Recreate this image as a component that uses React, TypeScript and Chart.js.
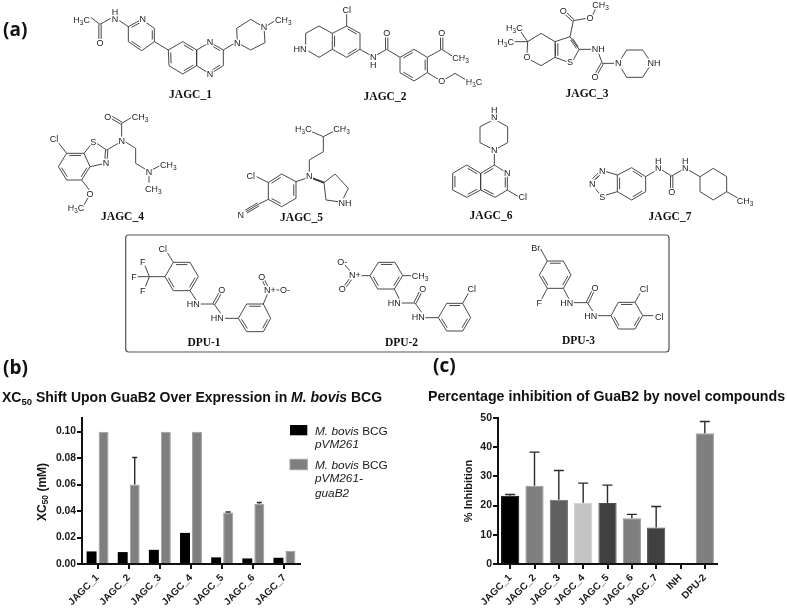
import React, { useEffect, useRef } from "react";
import { Chart, registerables } from "chart.js";

Chart.register(...registerables);

// ---------- chart data ----------
const shiftCategories = ["JAGC_1", "JAGC_2", "JAGC_3", "JAGC_4", "JAGC_5", "JAGC_6", "JAGC_7"];
const pVM261Values = [0.0095, 0.009, 0.0107, 0.0235, 0.005, 0.0042, 0.0047];
const guaB2Values = [0.1, 0.06, 0.1, 0.1, 0.039, 0.0455, 0.01];
const guaB2Upper = [null, 0.0805, null, null, 0.0393, 0.0465, null];
const shiftTicks = { max: 0.1103, step: 0.02 };

const inhibitionCategories = ["JAGC_1", "JAGC_2", "JAGC_3", "JAGC_4", "JAGC_5", "JAGC_6", "JAGC_7", "INH", "DPU-2"];
const inhibitionValues = [23.4, 26.8, 22, 21, 20.9, 15.7, 12.5, 0, 44.8];
const inhibitionUpper = [23.8, 38.3, 32, 27.7, 27, 17, 19.7, null, 48.8];
const inhibitionColors = ["#000000", "#7f7f7f", "#606060", "#c4c4c4", "#404040", "#7f7f7f", "#404040", "#000000", "#7f7f7f"];
const inhibitionBorders = ["#000000", "#999999", "#707070", "#cfcfcf", "#505050", "#999999", "#505050", "#000000", "#a0a0a0"];

// ---------- chemical structure drawings (decorative, zoom-space outlines) ----------
type P = number[];
type Mol = {
  ox: number; oy: number;
  rings: { p: P[]; d: number[] }[];
  bonds: number[][];
  dbl?: number[][];
  tri?: number[][];
  bold?: number[][];
  labels: [number, number, string][];
};

const mols: Mol[] = [
  { ox: 0, oy: 0,
    rings: [
      { p: [[385,80],[425,58],[463,85],[463,125],[425,152],[385,125]], d: [0,2,4] },
      { p: [[505,150],[548,125],[590,150],[590,197],[548,222],[507,197]], d: [1,3,5] },
      { p: [[590,150],[630,127],[670,150],[670,197],[630,222],[590,197]], d: [1,3] },
      { p: [[712,128],[710,85],[752,58],[792,82],[795,128],[752,150]], d: [] },
    ],
    bonds: [[272,52,300,73],[300,73,332,55],[358,62,385,80],[463,125,505,150],[670,150,703,130],[800,78,825,62]],
    dbl: [[300,73,300,117]],
    labels: [[245,60,"H3C"],[345,58,"N"],[345,36,"H"],[300,128,"O"],[428,58,"N"],[630,127,"N"],[630,222,"N"],[712,128,"N"],[792,82,"N"],[850,60,"CH3"]] },
  { ox: 0, oy: 0,
    rings: [
      { p: [[1040,78],[1080,100],[1080,148],[1040,172],[997,148],[997,100]], d: [0,2,4] },
      { p: [[1200,172],[1242,148],[1282,172],[1282,218],[1242,243],[1200,218]], d: [0,2,4] },
    ],
    bonds: [[1040,42,1040,78],[997,100,957,78],[957,78,917,100],[917,100,917,135],[925,153,957,172],[957,172,997,148],[1080,148,1110,165],[1130,165,1160,148],[1160,148,1200,172],[1282,172,1325,148],[1325,148,1360,170],[1282,218,1315,238],[1335,238,1365,220],[1365,220,1395,238]],
    dbl: [[1160,148,1160,112],[1325,148,1325,112]],
    labels: [[1040,30,"Cl"],[900,148,"HN"],[1120,172,"N"],[1120,195,"H"],[1160,100,"O"],[1325,100,"O"],[1382,175,"CH3"],[1325,243,"O"],[1422,245,"H3C"]] },
  { ox: 390, oy: 0,
    rings: [
      { p: [[685,190],[710,150],[758,150],[785,190],[758,232],[710,232]], d: [] },
    ],
    bonds: [[390,92,413,125],[372,125,413,125],[413,125,453,100],[453,100,495,125],[495,125,495,172],[495,172,453,197],[453,197,422,180],[413,125,411,160],[495,125,540,110],[540,110,567,148],[495,172,530,185],[550,180,567,148],[540,110,550,62],[550,62,590,55],[608,45,622,15],[567,148,605,148],[625,158,637,190],[637,190,672,190]],
    dbl: [[550,62,527,40],[637,190,620,220],[500,130,500,167],[545,118,562,143]],
    labels: [[373,85,"H3C"],[347,125,"H3C"],[411,172,"O"],[540,187,"S"],[520,32,"O"],[600,55,"O"],[632,14,"CH3"],[625,148,"NH"],[615,230,"O"],[685,190,"N"],[792,190,"NH"]] },
  { ox: 0, oy: 0,
    rings: [
      { p: [[200,460],[252,460],[270,500],[245,540],[200,540],[175,500]], d: [0,2,4] },
    ],
    bonds: [[175,428,200,460],[252,460,272,435],[290,430,320,450],[308,492,270,500],[320,450,355,430],[365,410,365,370],[365,370,395,352],[375,425,407,445],[407,445,407,490],[407,490,440,510],[455,510,480,497],[447,527,447,548],[245,540,268,570],[265,592,250,618]],
    dbl: [[320,450,318,480],[365,370,335,352]],
    labels: [[162,418,"Cl"],[280,425,"S"],[318,490,"N"],[365,422,"N"],[323,350,"O"],[420,352,"CH3"],[447,515,"N"],[505,495,"CH3"],[460,567,"CH3"],[270,582,"O"],[228,625,"H3C"]] },
  { ox: 0, oy: 0,
    rings: [
      { p: [[888,545],[888,595],[845,620],[805,598],[805,548],[845,522]], d: [0,2,4] },
    ],
    bonds: [[935,395,970,410],[970,410,1005,392],[970,410,970,455],[970,455,928,480],[928,480,928,515],[918,535,888,545],[770,530,805,548],[972,548,1005,522],[1005,522,1045,565],[1045,565,1030,595],[1015,605,978,600],[978,600,972,548],[805,598,775,613]],
    tri: [[775,613,738,635]],
    bold: [[938,535,972,548]],
    labels: [[910,388,"H3C"],[1025,388,"CH3"],[928,528,"N"],[752,528,"Cl"],[722,645,"N"],[1035,608,"NH"]] },
  { ox: 390, oy: 0,
    rings: [
      { p: [[272,520],[230,495],[188,520],[188,570],[230,592],[272,570]], d: [0,2,4] },
      { p: [[313,358],[353,380],[353,428],[313,450],[270,428],[270,380]], d: [] },
      { p: [[313,495],[352,520],[352,570],[315,592],[272,570],[272,520]], d: [1,3,5] },
    ],
    bonds: [[313,462,313,495],[352,570,385,590]],
    labels: [[313,352,"N"],[313,330,"H"],[313,450,"N"],[352,520,"N"],[398,592,"Cl"]] },
  { ox: 390, oy: 0,
    rings: [
      { p: [[682,525],[725,503],[767,530],[767,575],[725,600],[682,575]], d: [1,3,5] },
      { p: [[930,530],[970,505],[1010,530],[1010,575],[970,600],[930,575]], d: [] },
    ],
    bonds: [[682,525,648,515],[630,525,612,542],[612,562,628,580],[648,585,682,575],[767,530,797,512],[815,510,845,528],[845,528,876,510],[895,510,930,530],[1010,575,1045,595]],
    dbl: [[845,528,845,565],[627,522,610,538]],
    labels: [[637,513,"N"],[607,552,"N"],[637,590,"S"],[805,505,"N"],[805,482,"H"],[886,505,"N"],[886,482,"H"],[845,577,"O"],[1065,602,"CH3"]] },
  { ox: 110, oy: 225,
    rings: [
      { p: [[190,112],[240,112],[265,155],[240,197],[190,197],[165,155]], d: [0,2,4] },
      { p: [[385,280],[410,237],[460,237],[482,280],[460,320],[410,320]], d: [1,3,5] },
    ],
    bonds: [[170,80,190,112],[165,155,118,155],[118,155,105,122],[118,155,82,155],[118,155,105,188],[240,197,258,225],[272,237,312,237],[312,237,332,265],[345,280,385,280],[460,237,472,208],[492,195,512,195]],
    dbl: [[312,237,330,205],[470,185,460,165]],
    labels: [[158,72,"Cl"],[98,112,"F"],[72,155,"F"],[98,197,"F"],[250,237,"HN"],[335,195,"O"],[322,280,"HN"],[455,155,"O"],[480,195,"N+"],[525,195,"O-"]] },
  { ox: 110, oy: 225,
    rings: [
      { p: [[780,152],[805,112],[855,112],[878,152],[853,192],[803,192]], d: [1,3,5] },
      { p: [[985,278],[1010,235],[1058,235],[1082,278],[1058,318],[1010,318]], d: [1,3,5] },
    ],
    bonds: [[705,120,722,140],[748,152,780,152],[878,152,905,152],[853,192,868,222],[875,234,915,234],[915,234,935,262],[945,278,985,278],[1058,235,1075,205]],
    dbl: [[722,162,705,185],[915,234,932,200]],
    labels: [[697,110,"O-"],[735,150,"N+"],[697,192,"O"],[930,153,"CH3"],[853,234,"HN"],[938,192,"O"],[925,275,"HN"],[1085,193,"Cl"]] },
  { ox: 470, oy: 225,
    rings: [
      { p: [[232,108],[280,108],[303,150],[280,190],[232,190],[208,150]], d: [0,2,4] },
      { p: [[423,272],[445,232],[495,232],[518,272],[495,312],[445,312]], d: [1,3,5] },
    ],
    bonds: [[212,72,232,108],[232,190,215,222],[280,190,297,222],[310,233,352,233],[352,233,368,258],[382,272,423,272],[495,232,510,205],[518,272,550,272]],
    dbl: [[352,233,368,200]],
    labels: [[197,68,"Br"],[208,233,"F"],[290,233,"HN"],[375,190,"O"],[362,272,"HN"],[522,192,"Cl"],[568,275,"Cl"]] },
];

const names: [number, number, string][] = [
  [190.5, 94, "JAGC_1"], [385, 96, "JAGC_2"], [587, 93, "JAGC_3"], [122.5, 216, "JAGC_4"],
  [301.5, 217, "JAGC_5"], [491, 215, "JAGC_6"], [670, 216, "JAGC_7"], [204, 342, "DPU-1"],
  [401.5, 342, "DPU-2"], [578.5, 340, "DPU-3"],
];

function AtomText({ x, y, t }: { x: number; y: number; t: string }) {
  const parts = t.match(/\d|[^\d]+/g) || [];
  let sub = false;
  return (
    <text x={x} y={y} textAnchor="middle" dominantBaseline="central" fontFamily="'Liberation Sans'" fontSize={9} fill="#222"
      stroke="#fff" strokeWidth={2.5} paintOrder="stroke">
      {parts.map((s, i) => {
        const isNum = /\d/.test(s);
        const dy = isNum ? 2 : sub ? -2 : 0;
        sub = isNum;
        return <tspan key={i} dy={dy} fontSize={isNum ? 6.5 : 9}>{s}</tspan>;
      })}
    </text>
  );
}

function Molecule({ m }: { m: Mol }) {
  const X = (v: number) => m.ox + v / 3;
  const Y = (v: number) => m.oy + v / 3;
  const segs: React.ReactNode[] = [];
  const line = (a: number[], key: string, w = 0.9) =>
    segs.push(<line key={key} x1={X(a[0])} y1={Y(a[1])} x2={X(a[2])} y2={Y(a[3])} stroke="#333" strokeWidth={w} />);
  m.rings.forEach((r, ri) => {
    const cx = r.p.reduce((s, q) => s + q[0], 0) / r.p.length;
    const cy = r.p.reduce((s, q) => s + q[1], 0) / r.p.length;
    r.p.forEach((q, i) => {
      const n = r.p[(i + 1) % r.p.length];
      line([q[0], q[1], n[0], n[1]], `r${ri}-${i}`);
      if (r.d.includes(i)) {
        const f = 0.84;
        line([cx + (q[0] - cx) * f + (n[0] - q[0]) * 0.08, cy + (q[1] - cy) * f + (n[1] - q[1]) * 0.08,
              cx + (n[0] - cx) * f - (n[0] - q[0]) * 0.08, cy + (n[1] - cy) * f - (n[1] - q[1]) * 0.08], `d${ri}-${i}`);
      }
    });
  });
  m.bonds.forEach((b, i) => line(b, `b${i}`));
  const offset = (b: number[], o: number) => {
    const dx = b[2] - b[0], dy = b[3] - b[1], l = Math.hypot(dx, dy) || 1;
    return [b[0] - dy / l * o, b[1] + dx / l * o, b[2] - dy / l * o, b[3] + dx / l * o];
  };
  (m.dbl || []).forEach((b, i) => { line(offset(b, 3.5), `da${i}`); line(offset(b, -3.5), `db${i}`); });
  (m.tri || []).forEach((b, i) => { line(b, `t${i}`); line(offset(b, 5), `ta${i}`); line(offset(b, -5), `tb${i}`); });
  (m.bold || []).forEach((b, i) => line(b, `w${i}`, 2));
  return (
    <g>
      {segs}
      {m.labels.map((l, i) => <AtomText key={i} x={X(l[0])} y={Y(l[1])} t={l[2]} />)}
    </g>
  );
}

const errorBars = {
  id: "errorBars",
  afterDatasetsDraw(chart: any, _a: any, opts: any) {
    const { ctx, scales } = chart;
    (opts.series || []).forEach((s: any) => {
      const meta = chart.getDatasetMeta(s.dataset);
      s.upper.forEach((u: number | null, i: number) => {
        if (u == null) return;
        const el = meta.data[i];
        const top = scales.y.getPixelForValue(u);
        ctx.save();
        ctx.strokeStyle = "#2a2a2a";
        ctx.lineWidth = opts.width;
        ctx.beginPath();
        ctx.moveTo(el.x, el.y);
        ctx.lineTo(el.x, top);
        ctx.moveTo(el.x - opts.cap, top);
        ctx.lineTo(el.x + opts.cap, top);
        ctx.stroke();
        ctx.restore();
      });
    });
  },
};

const axisColor = "#111111";
const tickFont = (size: number) => ({ family: "'Liberation Sans'", size, weight: "bold" as const });

function useBarChart(ref: React.RefObject<HTMLCanvasElement | null>, config: () => any) {
  useEffect(() => {
    if (!ref.current) return;
    const chart = new Chart(ref.current, config());
    return () => chart.destroy();
  }, []);
}

function commonScales(yWidth: number, xHeight: number, xSize: number, ySize: number, y: any, yTitle: any) {
  return {
    x: {
      grid: { display: true, drawOnChartArea: false, drawTicks: true, tickLength: 5, lineWidth: 2, color: axisColor, offset: false },
      border: { display: true, color: axisColor, width: 2 },
      ticks: { color: "#1a1a1a", font: tickFont(xSize), minRotation: 45, maxRotation: 45, autoSkip: false, padding: 3 },
      afterFit: (s: any) => { s.height = xHeight; },
    },
    y: {
      ...y,
      title: yTitle,
      grid: { display: true, drawOnChartArea: false, drawTicks: true, tickLength: 5, lineWidth: 2, color: axisColor },
      border: { display: true, color: axisColor, width: 2 },
      afterFit: (s: any) => { s.width = yWidth; },
      ticks: { ...y.ticks, color: "#1a1a1a", font: tickFont(ySize), padding: 1, includeBounds: false },
    },
  };
}

export default function App() {
  const refB = useRef<HTMLCanvasElement>(null);
  const refC = useRef<HTMLCanvasElement>(null);

  useBarChart(refB, () => ({
    type: "bar",
    data: {
      labels: shiftCategories,
      datasets: [
        { label: "M. bovis BCG pVM261", data: pVM261Values, backgroundColor: "#000000", categoryPercentage: 0.77, barPercentage: 0.83 },
        { label: "M. bovis BCG pVM261-guaB2", data: guaB2Values, backgroundColor: "#7f7f7f", borderColor: "#a0a0a0", borderWidth: 1, categoryPercentage: 0.77, barPercentage: 0.83 },
      ],
    },
    options: {
      responsive: false,
      animation: false,
      layout: { padding: { top: 8, right: 10, left: 0, bottom: 0 } },
      plugins: {
        legend: { display: false },
        tooltip: { enabled: false },
        errorBars: { series: [{ dataset: 1, upper: guaB2Upper }], cap: 2.5, width: 1.4 },
      },
      scales: commonScales(82, 44, 10, 10.3,
        { min: 0, max: shiftTicks.max, ticks: { stepSize: shiftTicks.step, callback: (v: number) => v.toFixed(2) } },
        { display: false }),
    },
    plugins: [errorBars],
  }));

  useBarChart(refC, () => ({
    type: "bar",
    data: {
      labels: inhibitionCategories,
      datasets: [
        { label: "% Inhibition", data: inhibitionValues, backgroundColor: inhibitionColors, borderColor: inhibitionBorders, borderWidth: 1, categoryPercentage: 1, barPercentage: 0.75 },
      ],
    },
    options: {
      responsive: false,
      animation: false,
      layout: { padding: { top: 8, right: 10, left: 0, bottom: 0 } },
      plugins: {
        legend: { display: false },
        tooltip: { enabled: false },
        errorBars: { series: [{ dataset: 0, upper: inhibitionUpper }], cap: 5, width: 1.4 },
      },
      scales: commonScales(98, 44, 10, 10.5,
        { min: 0, max: 50, ticks: { stepSize: 10 } },
        { display: true, text: "% Inhibition", color: "#1a1a1a", font: tickFont(11), padding: { top: 62, bottom: 0 } }),
    },
    plugins: [errorBars],
  }));

  const panel = { fontFamily: "'Open Sans'", fontWeight: 700, fontSize: 19, fill: "#111" } as const;
  const legendText = { fontFamily: "'Liberation Sans'", fontSize: 11.8, fill: "#1a1a1a" } as const;
  const it = { fontStyle: "italic" } as const;

  return (
    <div style={{ position: "absolute", left: 0, top: 0, width: 787, height: 608, background: "#fff", overflow: "hidden" }}>
      <canvas ref={refB} width={310} height={198} style={{ position: "absolute", left: 0, top: 410, display: "block" }} />
      <canvas ref={refC} width={327} height={198} style={{ position: "absolute", left: 400, top: 410, display: "block" }} />
      <svg width={787} height={608} style={{ position: "absolute", left: 0, top: 0, pointerEvents: "none" }}>
        <text x={3} y={36} {...panel}>(a)</text>
        <text x={3} y={374} {...panel}>(b)</text>
        <text x={433} y={372} {...panel}>(c)</text>
        {mols.map((m, i) => <Molecule key={i} m={m} />)}
        {names.map(([x, y, t]) => (
          <text key={t} x={x} y={y} textAnchor="middle" dominantBaseline="central" fontFamily="'Liberation Serif'" fontWeight={700} fontSize={11.5} fill="#111">{t}</text>
        ))}
        <rect x={125.7} y={235} width={543.3} height={117} rx={3} fill="none" stroke="#555" strokeWidth={1.2} />
        <text x={2} y={402} fontFamily="'Liberation Sans'" fontWeight={700} fontSize={14} fill="#111">
          XC<tspan fontSize={9.5} dy={2.5}>50</tspan><tspan dy={-2.5}> Shift Upon GuaB2 Over Expression in </tspan><tspan {...it}>M. bovis</tspan> BCG
        </text>
        <text x={428} y={401} fontFamily="'Liberation Sans'" fontWeight={700} fontSize={14.2} fill="#111">Percentage inhibition of GuaB2 by novel compounds</text>
        <text transform="translate(46,492) rotate(-90)" textAnchor="middle" fontFamily="'Liberation Sans'" fontWeight={700} fontSize={12} fill="#1a1a1a">
          XC<tspan fontSize={8.5} dy={2}>50</tspan><tspan dy={-2}> (mM)</tspan>
        </text>
        <rect x={290} y={425} width={17.3} height={10.3} fill="#000" />
        <rect x={290} y={459.3} width={17.3} height={10.4} fill="#7f7f7f" stroke="#a0a0a0" strokeWidth={1} />
        <text x={315} y={434.5} {...legendText}><tspan {...it}>M. bovis</tspan> BCG</text>
        <text x={315} y={448} {...legendText} {...it}>pVM261</text>
        <text x={315} y={468.5} {...legendText}><tspan {...it}>M. bovis</tspan> BCG</text>
        <text x={315} y={482} {...legendText} {...it}>pVM261-</text>
        <text x={315} y={497} {...legendText} {...it}>guaB2</text>
      </svg>
    </div>
  );
}
